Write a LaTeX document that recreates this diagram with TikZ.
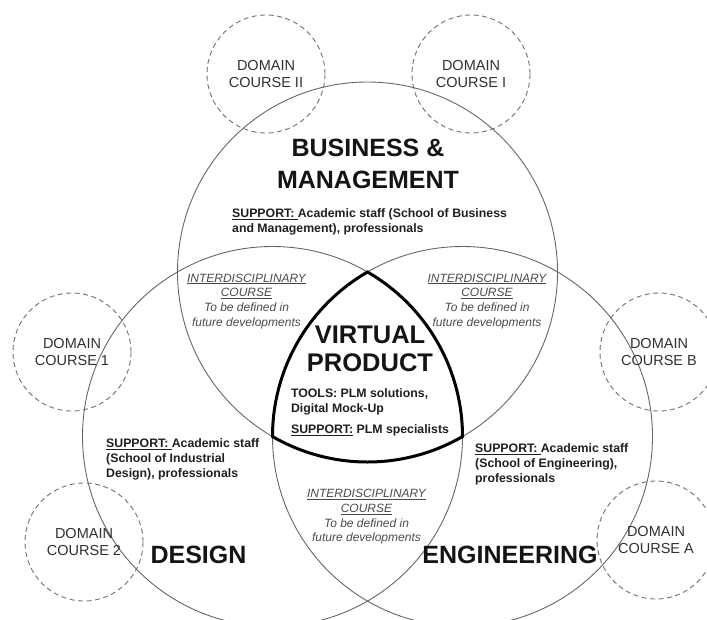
\documentclass[tikz,border=0pt]{standalone}
\usepackage{fontspec}
\setmainfont{Liberation Sans}
\usetikzlibrary{positioning}

\definecolor{ringgray}{HTML}{666666}
\definecolor{dashgray}{HTML}{707070}
\definecolor{intergray}{HTML}{4A4A4A}
\definecolor{domaintext}{HTML}{303030}

\begin{document}
\begin{tikzpicture}[x=1pt, y=1pt,
            bigcircle/.style = {draw=ringgray,line width=0.9pt},
            reuleaux/.style = {draw=black,line width=3pt,line join=miter},
            domcourse/.style = {circle,draw=dashgray,dash pattern=on 5pt off 3.5pt,
                line width=0.9pt,minimum size=118pt,inner sep=0pt,align=center,
                text=domaintext,font=\fontsize{14.5}{16.5}\selectfont},
            areatitle/.style = {align=center,inner sep=0pt,text=black!92,
                font=\bfseries\fontsize{25}{32}\selectfont},
            support/.style = {align=left,inner sep=0pt,anchor=north west,text=black!88,
                font=\bfseries\fontsize{12.3}{14.6}\selectfont},
            intercourse/.style = {align=center,inner sep=0pt,text=intergray,
                font=\itshape\fontsize{12}{14.7}\selectfont}]
            \useasboundingbox (0,0) rectangle (707,-619);
            \coordinate (bus) at (367.5,-272);
            \coordinate (des) at (272.5,-436.5);
            \coordinate (eng) at (462.5,-436.5);
            \draw[bigcircle] (bus) circle (190);
            \draw[bigcircle] (des) circle (190);
            \draw[bigcircle] (eng) circle (190);
            \draw[reuleaux] (bus) arc[start angle=120,end angle=180,radius=190]
                arc[start angle=240,end angle=300,radius=190]
                arc[start angle=0,end angle=60,radius=190] -- cycle;
            \node[domcourse] (domII) at (266,-74) {DOMAIN\\COURSE II};
            \node[domcourse] (domI) at (471,-74) {DOMAIN\\COURSE I};
            \node[domcourse] (dom1) at (72,-352) {DOMAIN\\COURSE 1};
            \node[domcourse] (dom2) at (84,-542) {DOMAIN\\COURSE 2};
            \node[domcourse] (domB) at (659,-352) {DOMAIN\\COURSE B};
            \node[domcourse] (domA) at (656,-540) {DOMAIN\\COURSE A};
            \node[areatitle] (bustitle) at (368,-163.5) {BUSINESS \&\\MANAGEMENT};
            \node[areatitle] (destitle) at (198.5,-555) {DESIGN};
            \node[areatitle] (engtitle) at (510,-555) {ENGINEERING};
            \node[areatitle,font=\bfseries\fontsize{25.5}{28}\selectfont] (vptitle) at (370,-349) {VIRTUAL\\PRODUCT};
            \node[support,below=16.5pt of vptitle] (vptools) {TOOLS: PLM solutions,\\Digital Mock-Up\\[6.5pt]\underline{SUPPORT:} PLM specialists};
            \node[support] (bussupport) at (232,-208.5) {\underline{SUPPORT:\ }Academic staff (School of Business\\and Management), professionals};
            \node[support] (dessupport) at (106,-438.7) {\underline{SUPPORT:\ }Academic staff\\(School of Industrial\\Design), professionals};
            \node[support] (engsupport) at (475,-443.7) {\underline{SUPPORT:\ }Academic staff\\(School of Engineering),\\professionals};
            \node[intercourse] (busdes) at (246.5,-301.2) {\underline{INTERDISCIPLINARY}\\\underline{COURSE}\\To be defined in\\future developments};
            \node[intercourse] (buseng) at (487,-301.2) {\underline{INTERDISCIPLINARY}\\\underline{COURSE}\\To be defined in\\future developments};
            \node[intercourse] (deseng) at (366.5,-516.7) {\underline{INTERDISCIPLINARY}\\\underline{COURSE}\\To be defined in\\future developments};
        \end{tikzpicture}
\end{document}
